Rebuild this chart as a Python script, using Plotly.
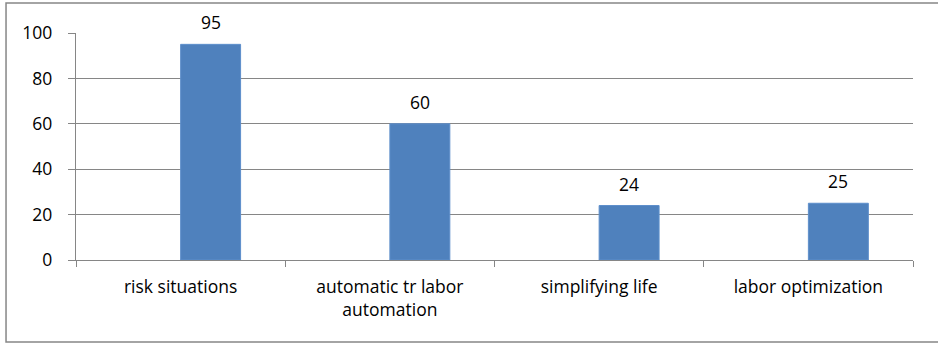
import plotly.graph_objects as go

categories = ["risk situations", "automatic tr labor<br>automation", "simplifying life", "labor optimization"]
values = [95, 60, 24, 25]
empty_series = [None, None, None, None]
y_ticks = [0, 20, 40, 60, 80, 100]

FONT = "Open Sans"
FS = 17.5
GRID = "#868686"

fig = go.Figure()
fig.add_trace(go.Bar(x=categories, y=empty_series, marker_color="#4F81BD", showlegend=False))
fig.add_trace(go.Bar(x=categories, y=values, marker=dict(color="#4F81BD", line=dict(color="#5E8FCB", width=1)),
                     showlegend=False))

for c, v in zip(categories, values):
    fig.add_annotation(x=c, y=v, text=str(v), showarrow=False, xshift=30, yshift=22,
                       font=dict(family=FONT, size=FS, color="#000000"))

fig.update_layout(
    width=938, height=344,
    margin=dict(l=76, r=25, t=33, b=84),
    paper_bgcolor="white", plot_bgcolor="white",
    barmode="group", bargap=0.427, bargroupgap=0,
    font=dict(family=FONT, size=FS, color="#000000"),
    shapes=[dict(type="rect", xref="paper", yref="paper", x0=-0.0836, x1=1.04, y0=-0.361, y1=1.132,
                 line=dict(color="#878787", width=1.5), fillcolor="rgba(0,0,0,0)", layer="below")],
)
fig.update_xaxes(
    showgrid=False, showline=True, linecolor=GRID, linewidth=1.3,
    ticks="outside", tickson="boundaries", ticklen=6, tickcolor=GRID,
    ticklabelstandoff=11, tickfont=dict(family=FONT, size=FS, color="#000000"),
)
fig.update_yaxes(
    range=[0, 100], tickvals=y_ticks, showgrid=True, gridcolor=GRID, gridwidth=1.3,
    showline=True, linecolor=GRID, linewidth=1.3, ticks="outside", ticklen=7, tickcolor=GRID,
    ticklabelstandoff=12,
    zeroline=False, tickfont=dict(family=FONT, size=FS, color="#000000"),
)

fig.write_html("out.html")
